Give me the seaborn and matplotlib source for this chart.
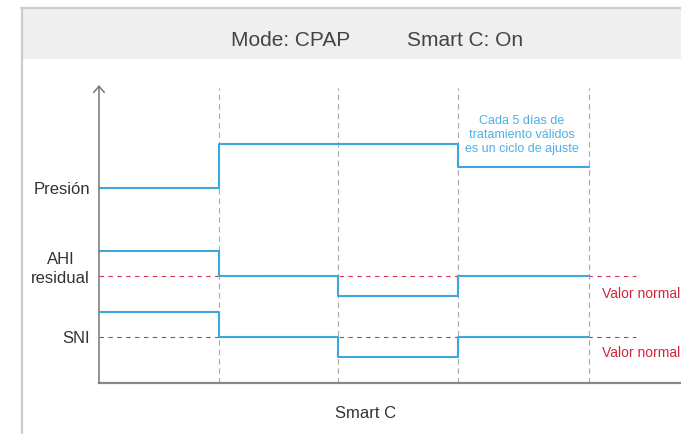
import matplotlib
matplotlib.use("Agg")
import matplotlib.pyplot as plt
import seaborn as sns
import pandas as pd
from matplotlib.lines import Line2D
from matplotlib.patches import Rectangle

sns.set_style("white")
plt.rcParams['font.family'] = ['Liberation Sans', 'DejaVu Sans']

# ---- data ----
cycle_edges = [0, 1, 2, 3, 4.1]          # adjustment-cycle boundaries
presion = [195, 239, 239, 216]          # pressure level per cycle
ahi = [132, 107, 87, 107]               # residual AHI per cycle
sni = [71, 46, 26, 46]                  # SNI per cycle
normal_ahi = 107
normal_sni = 46
row_labels = ["Presión", "AHI\nresidual", "SNI"]
row_label_pos = [195, 118, 46]
header_texts = ["Mode: CPAP", "Smart C: On"]
xlabel = "Smart C"
note = "Cada 5 días de\ntratamiento válidos\nes un ciclo de ajuste"
normal_text = "Valor normal"

W, H = 681, 434
fig = plt.figure(figsize=(W / 100, H / 100), dpi=100)
fig.patch.set_facecolor("white")

# header band and frame
fig.patches.append(Rectangle((22 / W, 1 - 59 / H), 1 - 22 / W, (59 - 8) / H,
                             transform=fig.transFigure, facecolor="#efefef",
                             edgecolor="none", zorder=0))
fig.lines.append(Line2D([21 / W, 1], [1 - 8 / H, 1 - 8 / H], transform=fig.transFigure,
                        color="#cccccc", lw=1.6))
fig.lines.append(Line2D([22 / W, 22 / W], [0, 1 - 8 / H], transform=fig.transFigure,
                        color="#cccccc", lw=1.6))
fig.text(231 / W, 1 - 40 / H, header_texts[0], ha="left", va="center",
         fontsize=15, color="#444444")
fig.text(407 / W, 1 - 40 / H, header_texts[1], ha="left", va="center",
         fontsize=15, color="#444444")

ax = fig.add_axes([99 / W, (H - 383) / H, (W - 99) / W, (383 - 85) / H])
ax.set_facecolor("none")
unit = 119.5
ax.set_xlim(0, (W - 99) / unit)
ax.set_ylim(0, 298)

blue = "#3ea7df"
for vals in (presion, ahi, sni):
    df = pd.DataFrame({"x": cycle_edges, "y": vals + [vals[-1]]})
    sns.lineplot(data=df, x="x", y="y", ax=ax, color=blue, lw=1.5,
                 drawstyle="steps-post", estimator=None, zorder=3)

# cycle boundaries
x_red_end = (636 - 99) / unit
ax.vlines(cycle_edges[1:], 0, 295, colors="#aaaaaa", lw=0.8,
          linestyles=(0, (5, 3.5)), zorder=1)
for lvl in (normal_ahi, normal_sni):
    ax.plot([0, x_red_end], [lvl, lvl], color="#d9304a", lw=0.8,
            dashes=(4, 4), zorder=2)

red_text_x = (602 - 99) / unit
ax.text(red_text_x, 383 - 294, normal_text, color="#d0243c", fontsize=10,
        ha="left", va="center")
ax.text(red_text_x, 383 - 353, normal_text, color="#d0243c", fontsize=10,
        ha="left", va="center")

ax.text((522 - 99) / unit, 383 - 135, note, color="#4cb0e6", fontsize=9,
        ha="center", va="center", linespacing=1.25, multialignment="center")

# axes styling
for s in ("top", "right", "left"):
    ax.spines[s].set_visible(False)
ax.spines["bottom"].set_color("#888888")
ax.spines["bottom"].set_linewidth(1.6)
ax.annotate("", xy=(0, 1), xytext=(0, 0), xycoords="axes fraction",
            arrowprops=dict(arrowstyle="->,head_length=0.45,head_width=0.38",
                            color="#777777", lw=1.1, shrinkA=0, shrinkB=0))
ax.set_xticks([])
ax.set_yticks(row_label_pos)
ax.set_yticklabels(row_labels, fontsize=12, color="#333333")
for lbl in ax.get_yticklabels():
    lbl.set_multialignment("center")
    lbl.set_linespacing(1.4)
ax.tick_params(axis="y", length=0, pad=6.5)
ax.set_xlabel(xlabel, fontsize=12, color="#333333")
ax.xaxis.label.set_va("center")
ax.xaxis.set_label_coords((366 - 99) / (W - 99), -(414 - 383) / 298)
ax.set_ylabel("")

fig.savefig("out.png", dpi=100)
